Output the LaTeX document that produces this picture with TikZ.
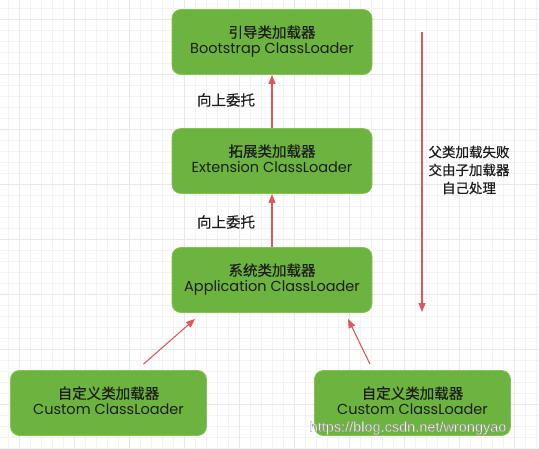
\documentclass[tikz,border=0pt]{standalone}
\usepackage{fontspec}
\setmainfont{Poppins}
\newfontfamily\cjk{Noto Sans CJK SC}
\newfontfamily\cjkb[FakeBold=0.6]{Noto Sans CJK SC}
\newfontfamily\wmfont{Liberation Sans}
\usetikzlibrary{arrows.meta,calc}
\definecolor{boxgreen}{HTML}{6DB33F}
\definecolor{boxedge}{HTML}{86C24F}
\definecolor{arrred}{HTML}{E0585A}
\definecolor{txt}{HTML}{1E1E1E}
\definecolor{gridminor}{HTML}{F3F3F3}
\definecolor{gridmajor}{HTML}{E8E8E8}
\tikzset{
  loader/.style={draw=boxedge, line width=0.8pt, fill=boxgreen, rounded corners=9pt,
    minimum width=200pt, minimum height=65pt, align=center, text=txt,
    font=\fontsize{14.5}{16}\selectfont, inner sep=0pt},
  arr/.style={draw=arrred, line width=1.1pt, -{Triangle[length=9pt,width=7pt]}},
  lab/.style={text=txt, font=\cjkb\fontsize{14.5}{17}\selectfont, align=center, inner sep=0pt},
}
\newcommand{\zh}[1]{{\cjkb\fontsize{14.5}{16}\selectfont #1}}
\newcommand{\twolines}[2]{\raisebox{-2.5pt}{\begin{tabular}{@{}c@{}}\zh{#1}\\ #2\end{tabular}}}
\begin{document}
\begin{tikzpicture}[x=1pt,y=-1pt]
\useasboundingbox (0,0) rectangle (539,448);
\fill[white] (0,0) rectangle (539,448);
% grid
\foreach \k in {0,...,49} {
  \pgfmathsetmacro\gx{8+11*\k}
  \draw[gridminor, line width=0.5pt] (\gx,0) -- (\gx,448);
}
\foreach \k in {0,...,40} {
  \pgfmathsetmacro\gy{8+11*\k}
  \draw[gridminor, line width=0.5pt] (0,\gy) -- (539,\gy);
}
\foreach \k in {0,...,9} {
  \pgfmathsetmacro\gx{19+55*\k}
  \draw[gridmajor, line width=0.7pt] (\gx,0) -- (\gx,448);
}
\foreach \k in {0,...,8} {
  \pgfmathsetmacro\gy{19+55*\k}
  \draw[gridmajor, line width=0.7pt] (0,\gy) -- (539,\gy);
}
% boxes
\node[loader] (boot) at (272,42) {\twolines{引导类加载器}{Bootstrap ClassLoader}};
\node[loader] (ext) at (272,161) {\twolines{拓展类加载器}{Extension ClassLoader}};
\node[loader] (app) at (272,280) {\twolines{系统类加载器}{Application ClassLoader}};
\node[loader, minimum width=196pt] (c1) at (108.5,403) {\twolines{自定义类加载器}{Custom ClassLoader}};
\node[loader, minimum width=196pt] (c2) at (412.5,403) {\twolines{自定义类加载器}{Custom ClassLoader}};
% labels
\node[lab] (l1) at (226,100) {向上委托};
\node[lab] (l2) at (226,222) {向上委托};
\node[lab, font=\cjkb\fontsize{13.5}{18}\selectfont] (l3) at (469,170) {父类加载失败\\交由子加载器\\自己处理};
% arrows
\draw[arr] (ext.north) -- (boot.south);
\draw[arr] (app.north) -- (ext.south);
\coordinate (c1s) at ($(c1.north)+(35,-6)$);
\coordinate (a1e) at ($(app.south)+(-77,6)$);
\coordinate (c2s) at ($(c2.north)+(-42.5,-6)$);
\coordinate (a2e) at ($(app.south)+(76,6)$);
\draw[arr] (c1s) -- (a1e);
\draw[arr] (c2s) -- (a2e);
\coordinate (ltop) at (422,32);
\coordinate (lbot) at (422,312);
\draw[arr] (ltop) -- (lbot);
% watermark (white text with grey outline)
\node[text=white, font=\wmfont\fontsize{14.5}{16}\selectfont, inner sep=0pt] (wm) at (408,428)
  {\special{pdf:code 2 Tr 0.3 w 0.55 G}https://blog.csdn.net/wrongyao\special{pdf:code 0 Tr}};
\end{tikzpicture}
\end{document}
